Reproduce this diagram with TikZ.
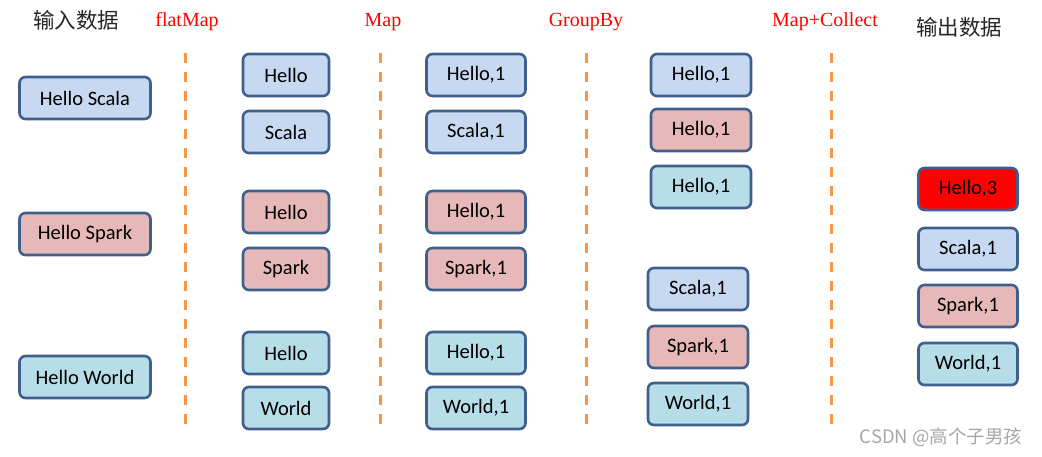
\documentclass[tikz,border=0pt]{standalone}
\usepackage{fontspec}
\setmainfont{Carlito}
\newfontfamily\cjkfont{Noto Sans CJK SC}
\newfontfamily\stepfont{Liberation Serif}

\definecolor{boxblue}{HTML}{C6D9F1}
\definecolor{boxred}{HTML}{E6B9B8}
\definecolor{boxcyan}{HTML}{B7DDE8}
\definecolor{boxedge}{HTML}{3F5F8C}
\definecolor{sepline}{HTML}{F79646}

\tikzset{
  word/.style={draw=boxedge, line width=2.6pt, rounded corners=6pt,
    minimum height=42pt, inner sep=0pt, font=\fontsize{20.5}{20.5}\selectfont},
  wblue/.style={word, fill=boxblue},
  wred/.style={word, fill=boxred},
  wcyan/.style={word, fill=boxcyan},
  steplabel/.style={text=red, font=\stepfont\fontsize{20}{20}\selectfont},
  headlabel/.style={text=black!85, font=\cjkfont\fontsize{21.5}{21.5}\selectfont},
  sep/.style={draw=sepline, line width=3pt, dash pattern=on 10pt off 9pt}
}

\begin{document}
\begin{tikzpicture}[x=1pt, y=-1pt]
  \useasboundingbox (0,0) rectangle (1042,456);

  % headers
  \node[headlabel] (in) at (76,20) {输入数据};
  \node[headlabel] (out) at (959,27) {输出数据};
  \node[steplabel] (flatmap) at (187,22) {flatMap};
  \node[steplabel] (map) at (383,22) {Map};
  \node[steplabel] (groupby) at (586,22) {GroupBy};
  \node[steplabel] (collect) at (825,22) {Map+Collect};

  % separators
  \foreach \x in {185,380,586,831}
    \draw[sep] (\x,53) -- (\x,426);

  % input lines
  \begin{scope}[every node/.append style={minimum width=131pt}]
    \node[wblue] (in1) at (85,98) {Hello Scala};
    \node[wred]  (in2) at (85,234) {Hello Spark};
    \node[wcyan] (in3) at (85,377) {Hello World};
  \end{scope}

  % flatMap
  \begin{scope}[every node/.append style={minimum width=86pt}]
    \node[wblue] (fm1) at (286,75) {Hello};
    \node[wblue] (fm2) at (286,132) {Scala};
    \node[wred]  (fm3) at (286,212) {Hello};
    \node[wred]  (fm4) at (286,269) {Spark};
    \node[wcyan] (fm5) at (286,353) {Hello};
    \node[wcyan] (fm6) at (286,408) {World};
  \end{scope}

  % Map
  \begin{scope}[every node/.append style={minimum width=99pt}]
    \node[wblue] (mp1) at (476,75) {Hello,1};
    \node[wblue] (mp2) at (476,132) {Scala,1};
    \node[wred]  (mp3) at (476,212) {Hello,1};
    \node[wred]  (mp4) at (476,269) {Spark,1};
    \node[wcyan] (mp5) at (476,353) {Hello,1};
    \node[wcyan] (mp6) at (476,408) {World,1};
  \end{scope}

  % GroupBy
  \begin{scope}[every node/.append style={minimum width=100pt}]
    \node[wblue] (gb1) at (701,75) {Hello,1};
    \node[wred]  (gb2) at (701,130) {Hello,1};
    \node[wcyan] (gb3) at (701,187) {Hello,1};
    \node[wblue] (gb4) at (698,289) {Scala,1};
    \node[wred]  (gb5) at (698,347) {Spark,1};
    \node[wcyan] (gb6) at (698,404) {World,1};
  \end{scope}

  % output
  \begin{scope}[every node/.append style={minimum width=99pt}]
    \node[word, fill=red] (res1) at (968,189) {Hello,3};
    \node[wblue] (res2) at (968,249) {Scala,1};
    \node[wred]  (res3) at (968,306) {Spark,1};
    \node[wcyan] (res4) at (968,364) {World,1};
  \end{scope}

  \node[text=black!35, font=\cjkfont\fontsize{18.5}{18.5}\selectfont] (mark) at (941,437) {CSDN @高个子男孩};
\end{tikzpicture}
\end{document}
